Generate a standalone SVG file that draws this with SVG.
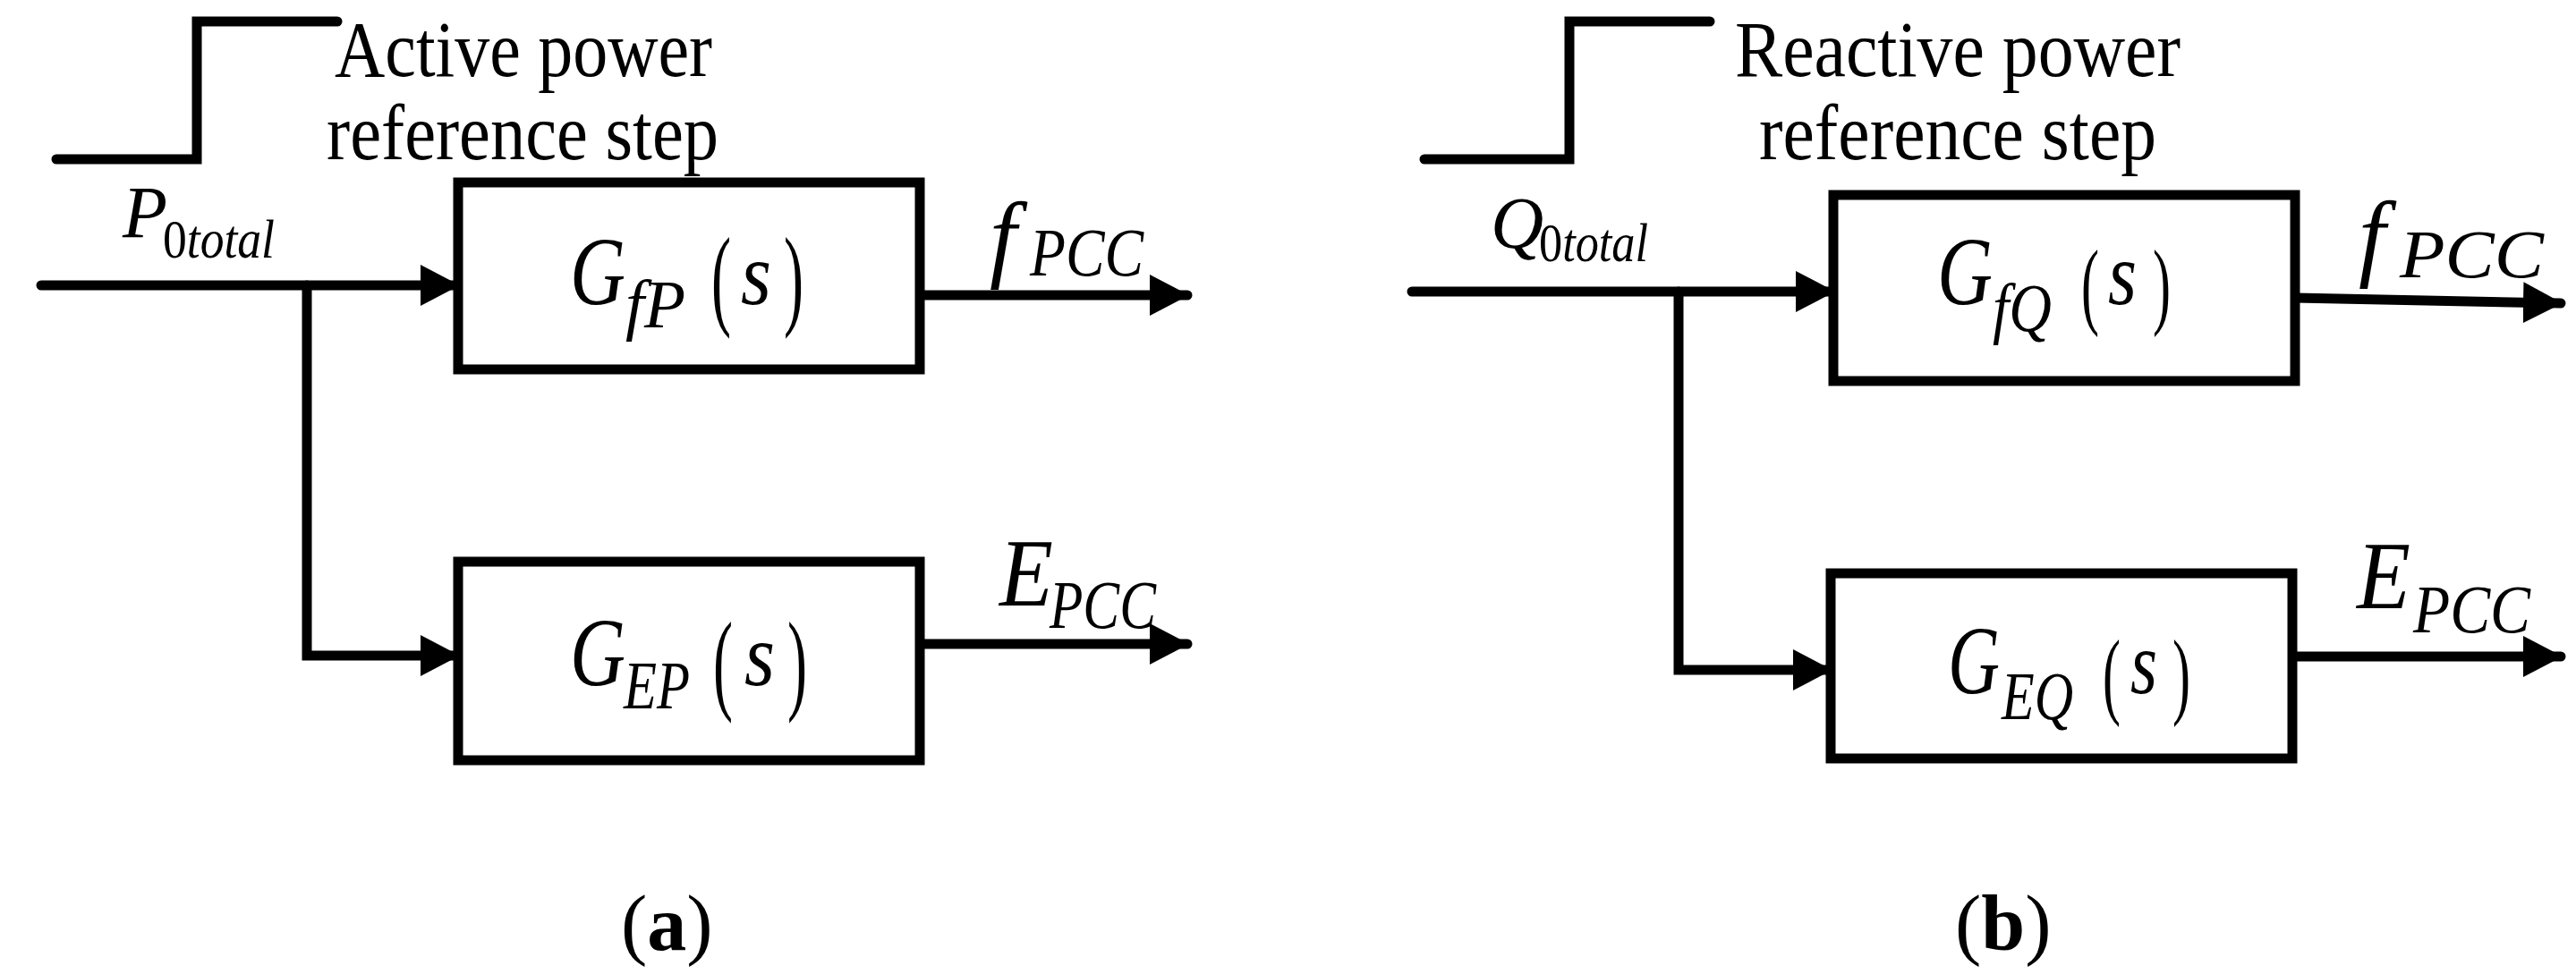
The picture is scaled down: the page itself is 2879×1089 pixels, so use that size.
<svg xmlns="http://www.w3.org/2000/svg" width="2879" height="1089" viewBox="0 0 2879 1089">
<style>
.ln{fill:none;stroke:#000;stroke-width:11;stroke-linecap:round;stroke-linejoin:miter}
.bx{fill:#fff;stroke:#000;stroke-width:11}
text{font-family:"Liberation Serif","Times New Roman",serif;fill:#000}
.it{font-style:italic}
.rm{font-style:normal}
</style>
<defs>
<marker id="ah" markerUnits="userSpaceOnUse" markerWidth="46" markerHeight="46" refX="42" refY="23" orient="auto" viewBox="0 0 46 46">
<path d="M0,0 L44,23 L0,46 Z" fill="#000"/>
</marker>
</defs>
<g id="connectors">
<path class="ln" d="M63,178 H220 V24 H377"/>
<path class="ln" d="M46,319 H512" marker-end="url(#ah)"/>
<path class="ln" d="M343,319 V733 H512" marker-end="url(#ah)"/>
<path class="ln" d="M1028,330 H1327" marker-end="url(#ah)"/>
<path class="ln" d="M1028,720 H1327" marker-end="url(#ah)"/>
<path class="ln" d="M1592,178 H1754 V24 H1911"/>
<path class="ln" d="M1578,326 H2049" marker-end="url(#ah)"/>
<path class="ln" d="M1876,326 V749 H2046" marker-end="url(#ah)"/>
<path class="ln" d="M2565,333 L2862,339" marker-end="url(#ah)"/>
<path class="ln" d="M2562,734 H2862" marker-end="url(#ah)"/>
</g>
<g id="stepA">
<text x="374" y="85" font-size="88" textLength="422" lengthAdjust="spacingAndGlyphs">Active power</text>
<text x="365" y="178" font-size="88" textLength="438" lengthAdjust="spacingAndGlyphs">reference step</text>
<text class="it" x="137" y="265" font-size="82">P</text>
<text class="it" x="182" y="288" font-size="62" textLength="125" lengthAdjust="spacingAndGlyphs"><tspan class="rm">0</tspan>total</text>
</g>
<g id="GfP">
<rect class="bx" x="512" y="204" width="516" height="209"/>
<text class="it" x="637" y="340" font-size="108" textLength="62" lengthAdjust="spacingAndGlyphs">G</text>
<text class="it" x="699" y="366" font-size="76" textLength="67" lengthAdjust="spacingAndGlyphs">fP</text>
<text x="795" y="352" font-size="124" textLength="22" lengthAdjust="spacingAndGlyphs">(</text>
<text class="it" x="828" y="340" font-size="100" textLength="34" lengthAdjust="spacingAndGlyphs">s</text>
<text x="876" y="352" font-size="124" textLength="22" lengthAdjust="spacingAndGlyphs">)</text>
<text class="it" x="1106" y="301" font-size="108">f</text>
<text class="it" x="1151" y="308" font-size="76" textLength="127" lengthAdjust="spacingAndGlyphs">PCC</text>
</g>
<g id="GEP">
<rect class="bx" x="512" y="628" width="516" height="222"/>
<text class="it" x="637" y="766" font-size="108" textLength="62" lengthAdjust="spacingAndGlyphs">G</text>
<text class="it" x="697" y="792" font-size="76" textLength="74" lengthAdjust="spacingAndGlyphs">EP</text>
<text x="797" y="782" font-size="124" textLength="22" lengthAdjust="spacingAndGlyphs">(</text>
<text class="it" x="832" y="766" font-size="100" textLength="34" lengthAdjust="spacingAndGlyphs">s</text>
<text x="880" y="782" font-size="124" textLength="22" lengthAdjust="spacingAndGlyphs">)</text>
<text class="it" x="1117" y="677" font-size="108" textLength="60" lengthAdjust="spacingAndGlyphs">E</text>
<text class="it" x="1173" y="702" font-size="76" textLength="119" lengthAdjust="spacingAndGlyphs">PCC</text>
</g>
<text x="694" y="1062" font-size="88">(<tspan font-weight="bold">a</tspan>)</text>
<g id="stepB">
<text x="1939" y="85" font-size="88" textLength="498" lengthAdjust="spacingAndGlyphs">Reactive power</text>
<text x="1966" y="178" font-size="88" textLength="444" lengthAdjust="spacingAndGlyphs">reference step</text>
<text class="it" x="1666" y="277" font-size="82">Q</text>
<text class="it" x="1720" y="292" font-size="62" textLength="122" lengthAdjust="spacingAndGlyphs"><tspan class="rm">0</tspan>total</text>
</g>
<g id="GfQ">
<rect class="bx" x="2049" y="218" width="516" height="208"/>
<text class="it" x="2165" y="340" font-size="108" textLength="62" lengthAdjust="spacingAndGlyphs">G</text>
<text class="it" x="2227" y="370" font-size="76" textLength="66" lengthAdjust="spacingAndGlyphs">fQ</text>
<text x="2326" y="354" font-size="108" textLength="20" lengthAdjust="spacingAndGlyphs">(</text>
<text class="it" x="2356" y="340" font-size="100" textLength="32" lengthAdjust="spacingAndGlyphs">s</text>
<text x="2406" y="354" font-size="108" textLength="20" lengthAdjust="spacingAndGlyphs">)</text>
<text class="it" x="2636" y="300" font-size="108">f</text>
<text class="it" x="2682" y="310" font-size="76" textLength="161" lengthAdjust="spacingAndGlyphs">PCC</text>
</g>
<g id="GEQ">
<rect class="bx" x="2046" y="641" width="516" height="207"/>
<text class="it" x="2177" y="775" font-size="108" textLength="58" lengthAdjust="spacingAndGlyphs">G</text>
<text class="it" x="2237" y="804" font-size="76" textLength="80" lengthAdjust="spacingAndGlyphs">EQ</text>
<text x="2350" y="790" font-size="108" textLength="20" lengthAdjust="spacingAndGlyphs">(</text>
<text class="it" x="2381" y="775" font-size="100" textLength="30" lengthAdjust="spacingAndGlyphs">s</text>
<text x="2428" y="790" font-size="108" textLength="20" lengthAdjust="spacingAndGlyphs">)</text>
<text class="it" x="2634" y="680" font-size="108" textLength="60" lengthAdjust="spacingAndGlyphs">E</text>
<text class="it" x="2697" y="707" font-size="76" textLength="131" lengthAdjust="spacingAndGlyphs">PCC</text>
</g>
<text x="2185" y="1062" font-size="88">(<tspan font-weight="bold">b</tspan>)</text>
</svg>
